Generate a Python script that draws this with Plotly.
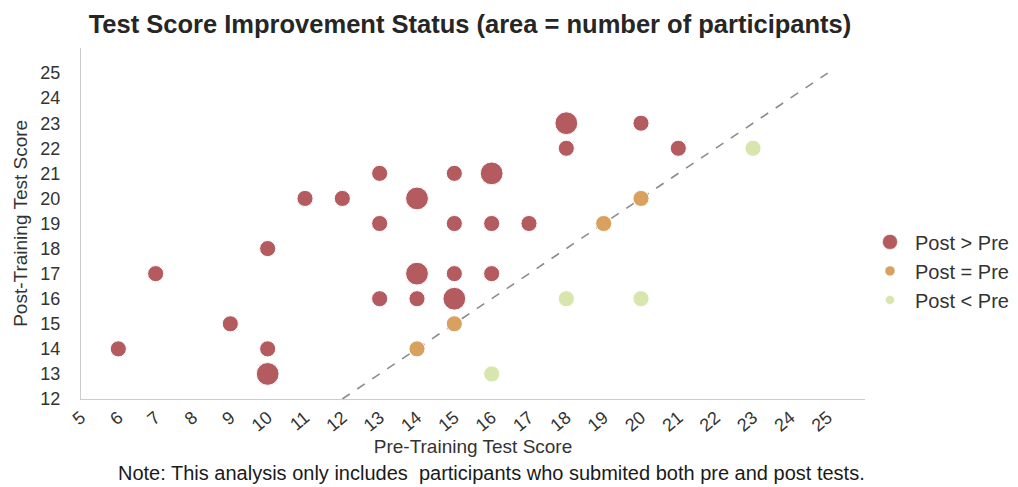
import plotly.graph_objects as go

# Data
pre_scores  = [6, 7, 9, 10, 10, 10, 11, 12, 13, 13, 13, 14, 14, 14, 15, 15, 15, 15, 16, 16, 16, 17, 18, 18, 20, 21,
               14, 15, 19, 20,
               16, 18, 20, 23]
post_scores = [14, 17, 15, 18, 14, 13, 20, 20, 21, 19, 16, 20, 17, 16, 21, 19, 17, 16, 21, 19, 17, 19, 23, 22, 23, 22,
               14, 15, 19, 20,
               13, 16, 16, 22]
participants = [1, 1, 1, 1, 1, 2, 1, 1, 1, 1, 1, 2, 2, 1, 1, 1, 1, 2, 2, 1, 1, 1, 2, 1, 1, 1,
                1, 1, 1, 1,
                1, 1, 1, 1]

groups = ["Post > Pre", "Post = Pre", "Post < Pre"]
colors = {"Post > Pre": "#b35b5f", "Post = Pre": "#d9a160", "Post < Pre": "#d6e6ac"}
legend_sizes = {"Post > Pre": 15, "Post = Pre": 10, "Post < Pre": 9}

x_ticks = list(range(5, 26))
y_ticks = list(range(12, 26))
diag = [12, 25]


def status(pre, post):
    if post > pre:
        return "Post > Pre"
    if post == pre:
        return "Post = Pre"
    return "Post < Pre"


fig = go.Figure()

fig.add_trace(go.Scatter(
    x=diag, y=diag, mode="lines",
    line=dict(color="#8c8c8c", width=1.6, dash="dash"),
    showlegend=False, hoverinfo="skip"))

for g in groups:
    idx = [i for i in range(len(pre_scores)) if status(pre_scores[i], post_scores[i]) == g]
    fig.add_trace(go.Scatter(
        x=[pre_scores[i] for i in idx],
        y=[post_scores[i] for i in idx],
        mode="markers",
        marker=dict(size=[participants[i] for i in idx], sizemode="area", sizeref=1 / 130,
                    opacity=1, color=colors[g], line=dict(color="white", width=1)),
        name=g, showlegend=False))

for g in groups:
    fig.add_trace(go.Scatter(
        x=[None], y=[None], mode="markers",
        marker=dict(size=legend_sizes[g], color=colors[g], opacity=1,
                    line=dict(color="white", width=0.5)),
        name=g, showlegend=True))

axis_common = dict(showgrid=False, zeroline=False, showline=True, linecolor="#cccccc",
                   linewidth=1.2, ticks="", tickfont=dict(size=18, color="#333333"),
                   title_font=dict(size=19, color="#333333"))

fig.update_layout(
    width=1018, height=487,
    margin=dict(l=73, r=157, t=40, b=96),
    paper_bgcolor="white", plot_bgcolor="white",
    font=dict(family="Liberation Sans, Arial, sans-serif", color="#333333"),
    title=dict(text="<b>Test Score Improvement Status (area = number of participants)</b>",
               x=462 / 1018, xanchor="center", y=0.985, yanchor="top",
               font=dict(size=25.5, color="#262626")),
    xaxis=dict(range=[5, 26], tickmode="array", tickvals=x_ticks,
               ticktext=[str(v) for v in x_ticks], tickangle=-40,
               title=dict(text="Pre-Training Test Score", standoff=0), **axis_common),
    yaxis=dict(range=[12, 26], tickmode="array", tickvals=y_ticks,
               ticktext=[str(v) for v in y_ticks], ticklabelstandoff=16,
               **axis_common),
    legend=dict(x=1.0, xanchor="left", y=0.365, yanchor="middle",
                font=dict(size=20, color="#333333"), bgcolor="rgba(0,0,0,0)",
                itemwidth=40, itemsizing="trace"),
    annotations=[
        dict(text="Post-Training Test Score", xref="paper", yref="paper",
             x=-61 / 788, y=0.5, xanchor="center", yanchor="middle", textangle=-90,
             showarrow=False, font=dict(size=19, color="#333333")),
        dict(text="Note: This analysis only includes  participants who submited both pre and post tests.",
             xref="paper", yref="paper", x=0.523, y=-0.21, xanchor="center", yanchor="middle",
             showarrow=False, font=dict(size=20, color="#1a1a1a"))],
)

fig.write_html("out.html")
